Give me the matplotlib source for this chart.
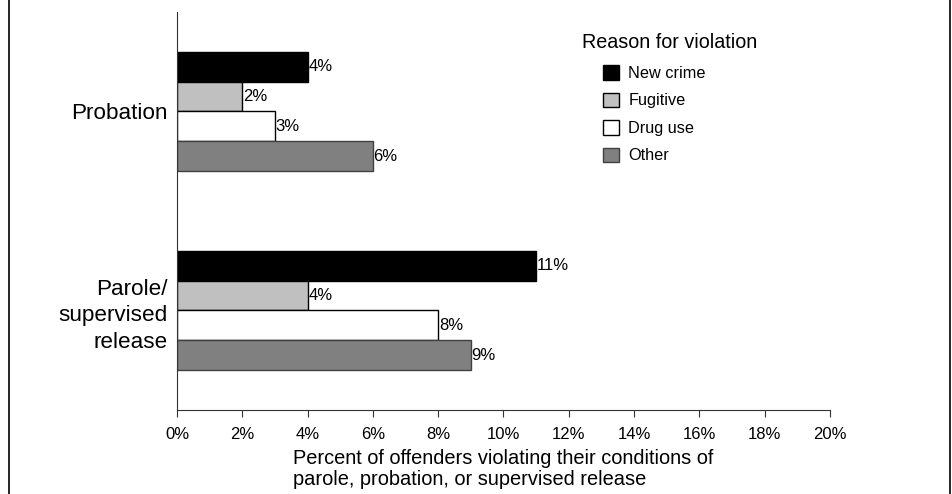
import matplotlib
matplotlib.use("Agg")
import matplotlib.pyplot as plt
from matplotlib.patches import Patch
from matplotlib.lines import Line2D
import numpy as np

plt.rcParams['font.family'] = ['Liberation Sans', 'DejaVu Sans']

groups = ["Probation", "Parole/\nsupervised\nrelease"]
reasons = ["New crime", "Fugitive", "Drug use", "Other"]
values = {
    "New crime": [4, 11],
    "Fugitive": [2, 4],
    "Drug use": [3, 8],
    "Other": [6, 9],
}
fills = {"New crime": "#000000", "Fugitive": "#c0c0c0",
         "Drug use": "#ffffff", "Other": "#808080"}
edges = {"New crime": "#000000", "Fugitive": "#000000",
         "Drug use": "#000000", "Other": "#404040"}
xticks = np.arange(0, 21, 2)

fig = plt.figure(figsize=(9.53, 4.94), dpi=100)
ax = fig.add_axes([177 / 953, 1 - 410 / 494, (830 - 177) / 953, (410 - 12) / 494])

h = 0.15
pos = np.arange(len(groups))
for i, r in enumerate(reasons):
    y = pos + (i - 1.5) * h
    ax.barh(y, values[r], height=h, color=fills[r], edgecolor=edges[r],
            linewidth=1.0, zorder=2)
    for yy, v in zip(y, values[r]):
        ax.text(v + 0.02, yy, f"{v}%", va="center", ha="left", fontsize=12)

ax.set_ylim(1.5, -0.5)
ax.set_xlim(0, 20)
ax.set_yticks(pos)
ax.set_yticklabels(groups, fontsize=16.2, ha="right", multialignment="right",
                   linespacing=1.35)
ax.tick_params(axis="y", length=0, pad=7)
ax.set_xticks(xticks)
ax.set_xticklabels([f"{t}%" for t in xticks], fontsize=12)
ax.tick_params(axis="x", length=5, width=0.8, pad=7, color="#333333")

for s in ["top", "right"]:
    ax.spines[s].set_visible(False)
for s in ["left", "bottom"]:
    ax.spines[s].set_color("#333333")
    ax.spines[s].set_linewidth(0.8)

ax.set_xlabel("Percent of offenders violating their conditions of\n"
              "parole, probation, or supervised release",
              fontsize=14.4, multialignment="left", labelpad=5,
              linespacing=1.15)

# legend: title as its own text, entries below and indented
fig.text(582 / 953, 1 - 43 / 494, "Reason for violation", fontsize=14.2,
         ha="left", va="center")
handles = [Patch(facecolor=fills[r], edgecolor=edges[r], linewidth=1.0) for r in reasons]
leg = ax.legend(handles, reasons, frameon=False, fontsize=11.7,
                loc="upper left", bbox_to_anchor=(603 / 953, 1 - 65 / 494),
                bbox_transform=fig.transFigure, borderpad=0, borderaxespad=0,
                handlelength=1.0, handleheight=1.0, labelspacing=0.72,
                handletextpad=0.55)

# frame lines down both sides of the figure
fig.add_artist(Line2D([9 / 953, 9 / 953], [0, 1], color="black", lw=1.2,
                      transform=fig.transFigure))
fig.add_artist(Line2D([950 / 953, 950 / 953], [0, 1], color="black", lw=1.2,
                      transform=fig.transFigure))

fig.savefig("out.png", dpi=100)
